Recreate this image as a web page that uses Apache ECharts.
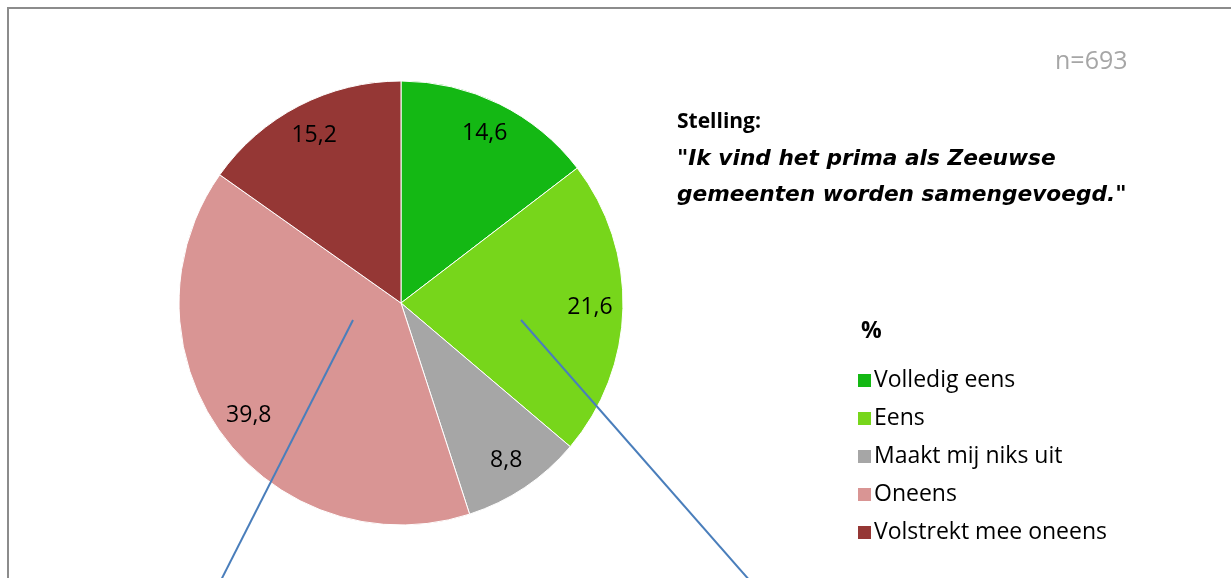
<!DOCTYPE html>
<html>
<head>
<meta charset="utf-8">
<script src="https://cdn.jsdelivr.net/npm/echarts@6/dist/echarts.min.js"></script>
<style>
  html, body { margin: 0; padding: 0; background: #fff; }
  #chart { width: 1231px; height: 578px; }
</style>
</head>
<body>
<div id="chart"></div>
<script>
// antwoordcategorieën en percentages
const categories = ["Volledig eens", "Eens", "Maakt mij niks uit", "Oneens", "Volstrekt mee oneens"];
const percentages = [14.6, 21.6, 8.8, 39.8, 15.2];
const colors = ["#14b814", "#77d61b", "#a6a6a6", "#d99594", "#953735"];
const sampleSize = "n=693";

const font = '"Open Sans", sans-serif';
const wideFont = '"DejaVu Sans", "Open Sans", sans-serif';

const pieData = categories.map((name, i) => ({ value: percentages[i], name: name }));

let myChart = echarts.init(document.getElementById("chart"));
myChart.setOption({
  animation: false,
  color: colors,
  textStyle: { fontFamily: font },
  title: [
    {
      text: sampleSize,
      left: 1050,
      top: 44,
      textStyle: { color: "#a6a6a6", fontSize: 25, fontWeight: "normal", fontFamily: font },
    },
    {
      text: "Stelling:",
      left: 672,
      top: 107,
      textStyle: { color: "#000", fontSize: 21, fontWeight: "bold", fontFamily: font },
    },
    {
      text: '"Ik vind het prima als Zeeuwse\ngemeenten worden samengevoegd."',
      left: 672,
      top: 136,
      textStyle: {
        color: "#000",
        fontSize: 21.7,
        fontWeight: "bold",
        fontStyle: "italic",
        lineHeight: 36,
        fontFamily: wideFont,
      },
    },
    {
      text: "%",
      left: 856,
      top: 315,
      textStyle: { color: "#000", fontSize: 23, fontWeight: "bold", fontFamily: font },
    },
  ],
  legend: {
    orient: "vertical",
    left: 851,
    top: 364,
    itemWidth: 15,
    itemHeight: 15,
    itemGap: 15,
    icon: "rect",
    data: categories,
    textStyle: { color: "#000", fontSize: 23, fontFamily: font, padding: [0, 0, 0, -3] },
  },
  graphic: [
    {
      type: "rect",
      shape: { x: 8, y: 8, width: 2000, height: 2000 },
      style: { fill: "none", stroke: "#8c8c8c", lineWidth: 2 },
      silent: true,
      z: 0,
    },
    {
      type: "line",
      shape: { x1: 353, y1: 320, x2: 216, y2: 590 },
      style: { stroke: "#4a7ebb", lineWidth: 2 },
      z: 100,
    },
    {
      type: "line",
      shape: { x1: 521, y1: 320, x2: 758, y2: 590 },
      style: { stroke: "#4a7ebb", lineWidth: 2 },
      z: 100,
    },
  ],
  series: [
    {
      type: "pie",
      center: [401, 303],
      radius: 222,
      startAngle: 90,
      clockwise: true,
      label: { show: false },
      labelLine: { show: false },
      itemStyle: { borderColor: "#fff", borderWidth: 1 },
      emphasis: { disabled: true },
      data: pieData,
    },
    {
      // transparante ring alleen voor de labels
      type: "pie",
      center: [401, 303],
      radius: [150, 222],
      startAngle: 90,
      clockwise: true,
      silent: true,
      itemStyle: { color: "rgba(0,0,0,0)" },
      label: {
        show: true,
        position: "inside",
        formatter: (p) => String(p.value).replace(".", ","),
        color: "#000",
        fontSize: 23,
        fontFamily: font,
      },
      labelLine: { show: false },
      emphasis: { disabled: true },
      data: pieData,
    },
  ],
});
</script>
</body>
</html>
